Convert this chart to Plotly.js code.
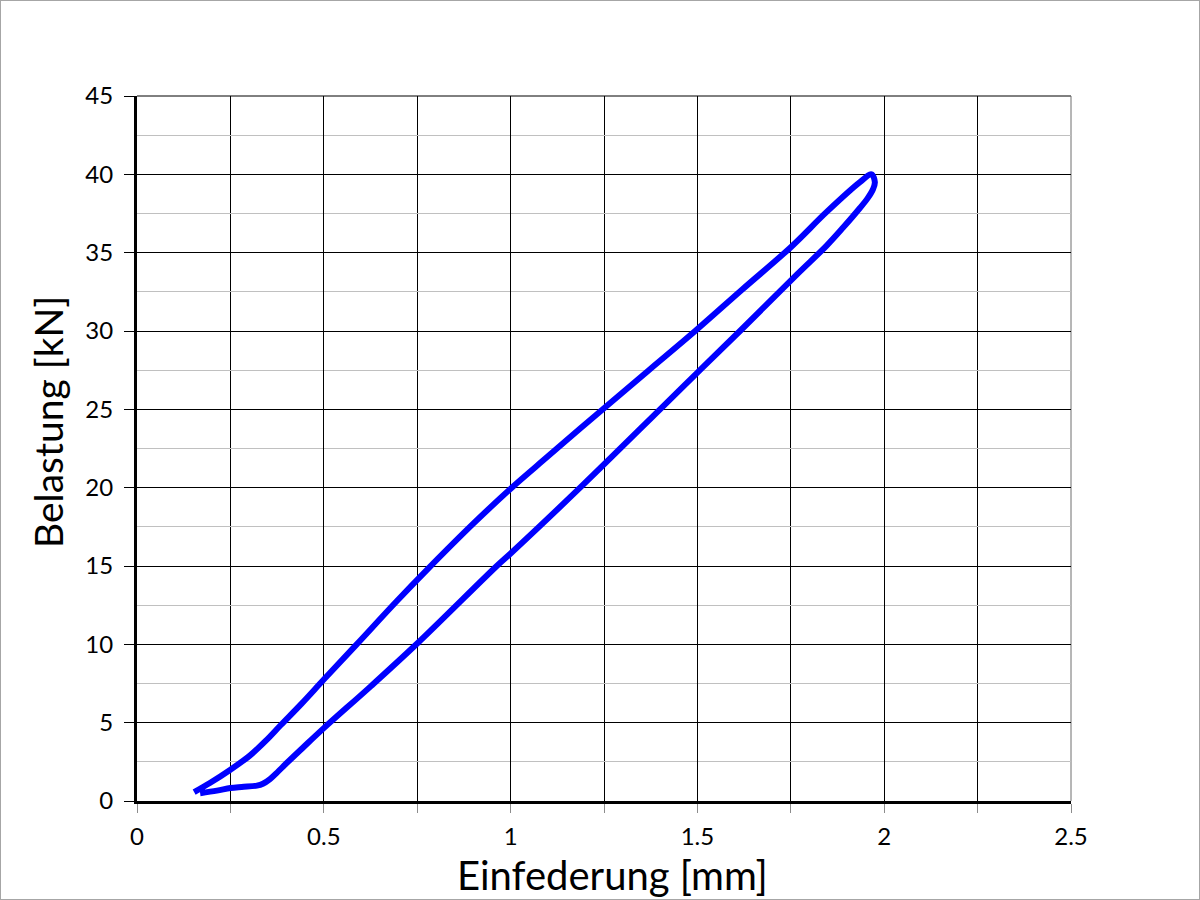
<!DOCTYPE html>
<html>
<head>
<meta charset="utf-8">
<script src="https://cdn.plot.ly/plotly-3.0.1.min.js"></script>
<style>
  html, body { margin: 0; padding: 0; background: #fff; }
  #wrap { position: relative; width: 1200px; height: 900px; }
  #chart { position: absolute; left: 0; top: 0; width: 1200px; height: 900px; }
  #frame { position: absolute; left: 0; top: 0; width: 1200px; height: 900px; box-sizing: border-box; border: 1px solid #a6a6a6; pointer-events: none; }
</style>
</head>
<body>
<div id="wrap"><div id="chart"></div><div id="frame"></div></div>
<script>
// Loading branch (upper curve), from start to peak
const upperX = [0.153, 0.195, 0.25, 0.302, 0.345, 0.385, 0.44, 0.5, 0.588, 0.695, 0.78, 0.90, 1.003, 1.10, 1.239, 1.37, 1.494, 1.62, 1.75, 1.846, 1.935, 1.966];
const upperY = [0.57, 1.15, 2.0, 2.9, 3.85, 4.85, 6.2, 7.75, 10.0, 12.75, 14.85, 17.7, 20.0, 22.0, 24.85, 27.5, 30.0, 32.65, 35.35, 37.6, 39.5, 40.0];
// Unloading branch (lower curve), from peak back to start
const lowerX = [1.975, 1.97, 1.955, 1.935, 1.89, 1.846, 1.766, 1.614, 1.50, 1.40, 1.186, 1.0, 0.963, 0.75, 0.627, 0.5, 0.444, 0.391, 0.372, 0.356, 0.337, 0.321, 0.28, 0.25, 0.214, 0.169];
const lowerY = [39.5, 39.05, 38.45, 37.85, 36.6, 35.45, 33.6, 30.0, 27.35, 25.0, 20.0, 15.8, 15.0, 10.05, 7.35, 4.65, 3.4, 2.2, 1.75, 1.4, 1.1, 0.98, 0.9, 0.83, 0.66, 0.5];

const xTitle = "Einfederung [mm]";
const yTitle = "Belastung [kN]";

const trace = {
  x: upperX.concat(lowerX),
  y: upperY.concat(lowerY),
  type: "scatter",
  mode: "lines",
  line: { color: "#0000ff", width: 6, shape: "spline", smoothing: 1.0 },
  hoverinfo: "skip"
};

const font = "Lato, 'Open Sans', sans-serif";

const layout = {
  width: 1200,
  height: 900,
  paper_bgcolor: "#ffffff",
  plot_bgcolor: "#ffffff",
  showlegend: false,
  margin: { l: 137, r: 129, t: 96, b: 99, pad: 0 },
  font: { family: font, color: "#000000", size: 24 },
  xaxis: {
    range: [0, 2.5],
    dtick: 0.5,
    tick0: 0,
    showgrid: true,
    gridcolor: "#000000",
    gridwidth: 1,
    zeroline: false,
    showline: true,
    linecolor: "#000000",
    linewidth: 3,
    ticks: "outside",
    ticklen: 9,
    tickcolor: "#8c8c8c",
    tickwidth: 1,
    ticklabelstandoff: 3,
    minor: { dtick: 0.25, showgrid: true, gridcolor: "#000000", gridwidth: 1, ticks: "outside", ticklen: 9, tickcolor: "#8c8c8c" },
    tickfont: { family: font, size: 24, color: "#000000" },
    automargin: false,
    fixedrange: true
  },
  yaxis: {
    range: [0, 45],
    dtick: 5,
    tick0: 0,
    showgrid: true,
    gridcolor: "#000000",
    gridwidth: 1,
    zeroline: false,
    showline: true,
    linecolor: "#000000",
    linewidth: 3,
    ticks: "outside",
    ticklen: 10,
    tickcolor: "#000000",
    tickwidth: 1,
    ticklabelstandoff: 6,
    minor: { dtick: 2.5, showgrid: true, gridcolor: "#c0c0c0", gridwidth: 1, ticks: "" },
    tickfont: { family: font, size: 24, color: "#000000" },
    automargin: false,
    fixedrange: true
  },
  annotations: [
    { text: xTitle, xref: "paper", yref: "paper", x: 0.5093, y: -0.1049, xanchor: "center", yanchor: "middle", showarrow: false, font: { family: font, size: 40, color: "#000000" } },
    { text: yTitle, xref: "paper", yref: "paper", x: -0.0953, y: 0.5376, xanchor: "center", yanchor: "middle", textangle: -90, showarrow: false, font: { family: font, size: 39, color: "#000000" } }
  ],
  shapes: [
    { type: "line", xref: "paper", yref: "paper", x0: 0, x1: 1, y0: 1, y1: 1, line: { color: "#000000", width: 1 }, layer: "below" },
    { type: "line", xref: "paper", yref: "paper", x0: 1, x1: 1, y0: 0, y1: 1, line: { color: "#6e6e6e", width: 1 }, layer: "below" }
  ]
};

Plotly.newPlot("chart", [trace], layout, { staticPlot: true, displayModeBar: false });
</script>
</body>
</html>
